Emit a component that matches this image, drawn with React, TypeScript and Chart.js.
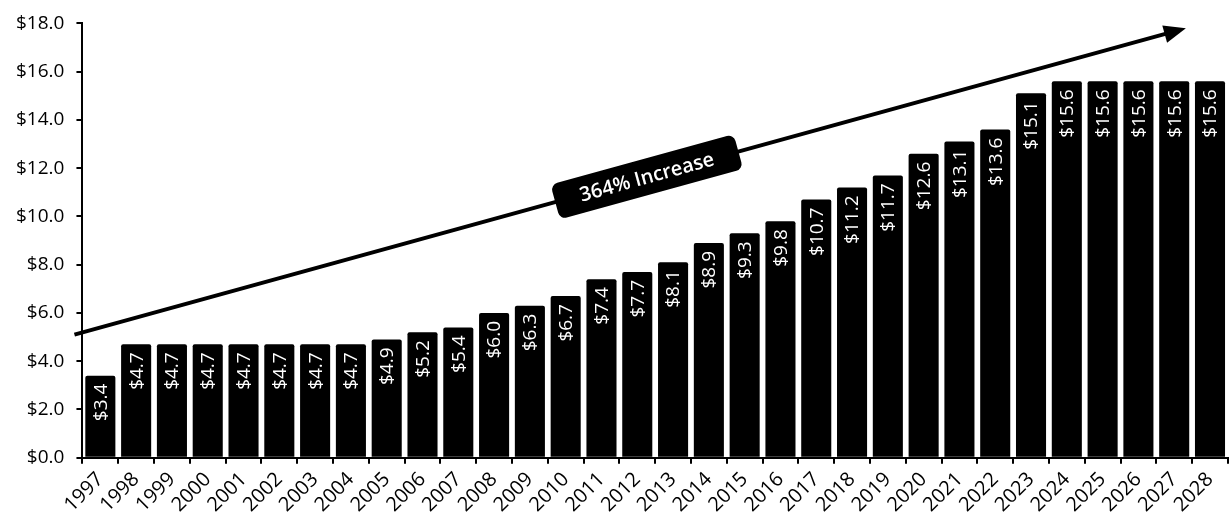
import React, { useEffect, useRef } from "react";
import { Chart, registerables } from "chart.js";

Chart.register(...registerables);

const years = [
  "1997", "1998", "1999", "2000", "2001", "2002", "2003", "2004", "2005", "2006", "2007",
  "2008", "2009", "2010", "2011", "2012", "2013", "2014", "2015", "2016", "2017", "2018",
  "2019", "2020", "2021", "2022", "2023", "2024", "2025", "2026", "2027", "2028",
];
const values = [
  3.4, 4.7, 4.7, 4.7, 4.7, 4.7, 4.7, 4.7, 4.9, 5.2, 5.4,
  6.0, 6.3, 6.7, 7.4, 7.7, 8.1, 8.9, 9.3, 9.8, 10.7, 11.2,
  11.7, 12.6, 13.1, 13.6, 15.1, 15.6, 15.6, 15.6, 15.6, 15.6,
];
const arrowLabel = "364% Increase";
const arrowStartValue = 5.1;
const arrowEndValue = 17.8;

const FONT = "'Open Sans', 'DejaVu Sans', sans-serif";

const overlayPlugin = {
  id: "overlay",
  afterDatasetsDraw(chart: any) {
    const ctx = chart.ctx;
    const meta = chart.getDatasetMeta(0);
    const ys = chart.scales.y;
    const area = chart.chartArea;
    // bar value labels
    ctx.save();
    ctx.fillStyle = "#ffffff";
    ctx.font = `19px ${FONT}`;
    ctx.textAlign = "right";
    ctx.textBaseline = "middle";
    meta.data.forEach((bar: any, i: number) => {
      ctx.save();
      ctx.translate(bar.x, bar.y + 8);
      ctx.rotate(-Math.PI / 2);
      ctx.fillText("$" + values[i].toFixed(1), 0, 1);
      ctx.restore();
    });
    ctx.restore();

    // arrow
    const x0 = area.left - 8;
    const y0 = ys.getPixelForValue(arrowStartValue);
    const x1 = area.right - 42;
    const y1 = ys.getPixelForValue(arrowEndValue);
    const ang = Math.atan2(y1 - y0, x1 - x0);
    const headLen = 22;
    const headW = 9;
    ctx.save();
    ctx.strokeStyle = "#000";
    ctx.fillStyle = "#000";
    ctx.lineWidth = 4;
    ctx.beginPath();
    ctx.moveTo(x0, y0);
    ctx.lineTo(x1 - Math.cos(ang) * headLen * 0.8, y1 - Math.sin(ang) * headLen * 0.8);
    ctx.stroke();
    ctx.translate(x1, y1);
    ctx.rotate(ang);
    ctx.beginPath();
    ctx.moveTo(0, 0);
    ctx.lineTo(-headLen, -headW);
    ctx.lineTo(-headLen, headW);
    ctx.closePath();
    ctx.fill();
    ctx.restore();

    // label box
    const t = 0.515;
    const cx = x0 + (x1 - x0) * t;
    const cy = y0 + (y1 - y0) * t;
    ctx.save();
    ctx.translate(cx, cy);
    ctx.rotate(ang);
    const w = 190;
    const h = 36;
    ctx.fillStyle = "#000";
    ctx.beginPath();
    (ctx as any).roundRect(-w / 2, -h / 2, w, h, 7);
    ctx.fill();
    ctx.fillStyle = "#fff";
    ctx.font = `600 20px ${FONT}`;
    ctx.textAlign = "center";
    ctx.textBaseline = "middle";
    ctx.fillText(arrowLabel, 0, 1);
    ctx.restore();
  },
};

export default function App() {
  const ref = useRef<HTMLCanvasElement | null>(null);
  useEffect(() => {
    document.body.style.margin = "0";
    const chart = new Chart(ref.current as HTMLCanvasElement, {
      type: "bar",
      data: {
        labels: years,
        datasets: [
          {
            data: values,
            backgroundColor: "#000000",
            borderRadius: 2,
            borderSkipped: "bottom",
            barPercentage: 0.84,
            categoryPercentage: 1,
          },
        ],
      },
      options: {
        animation: false,
        responsive: false,
        maintainAspectRatio: false,
        layout: { padding: { top: 8, right: 2, left: 4, bottom: 0 } },
        plugins: {
          legend: { display: false },
          tooltip: { enabled: false },
        },
        scales: {
          x: {
            offset: true,
            grid: {
              offset: true,
              drawOnChartArea: false,
              drawTicks: true,
              tickLength: 6,
              color: "#000",
              lineWidth: 2,
            },
            border: { display: true, color: "#000", width: 2 },
            ticks: {
              color: "#000",
              font: { family: FONT, size: 20 },
              minRotation: 45,
              maxRotation: 45,
              autoSkip: false,
              padding: 4,
            },
          },
          y: {
            min: 0,
            max: 18,
            grid: {
              drawOnChartArea: false,
              drawTicks: true,
              tickLength: 6,
              color: "#000",
              lineWidth: 2,
            },
            border: { display: true, color: "#000", width: 2 },
            ticks: {
              stepSize: 2,
              color: "#000",
              font: { family: FONT, size: 19 },
              padding: 12,
              callback: (v: any) => "$" + Number(v).toFixed(1),
            },
          },
        },
      },
      plugins: [overlayPlugin],
    });
    return () => chart.destroy();
  }, []);
  return (
    <div style={{ width: 1231, height: 521 }}>
      <canvas ref={ref} width={1231} height={521} style={{ width: 1231, height: 521, display: "block" }} />
    </div>
  );
}
